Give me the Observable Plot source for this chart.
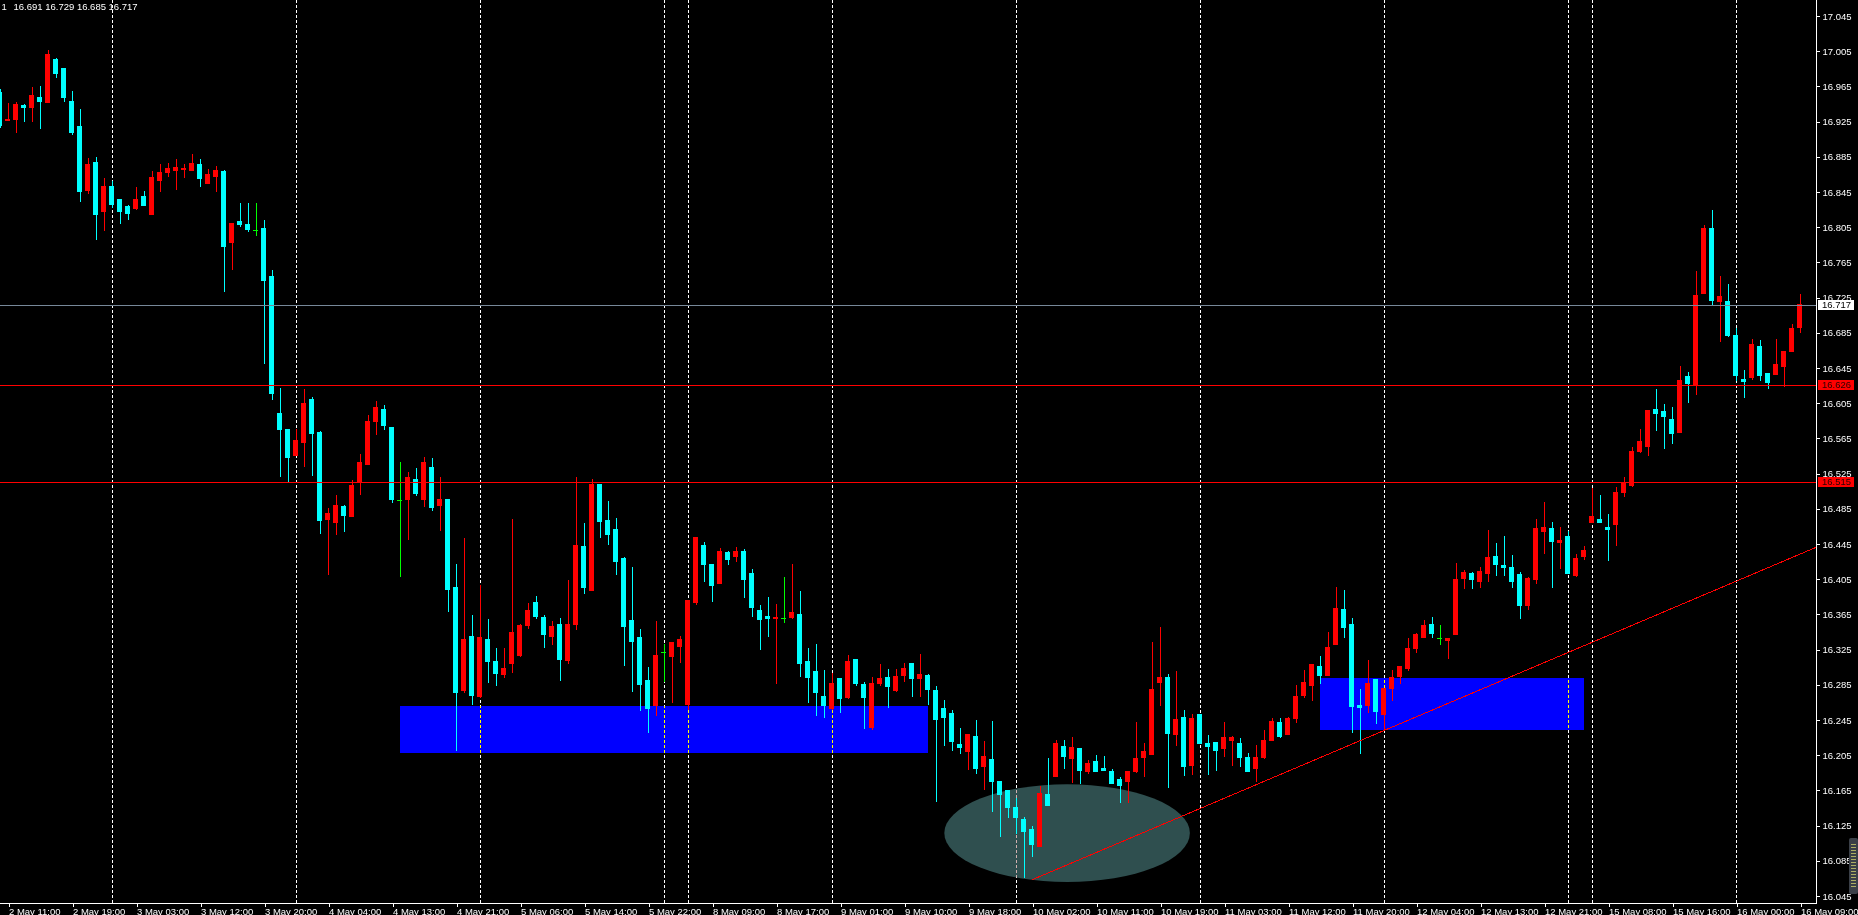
<!DOCTYPE html>
<html>
<head>
<meta charset="utf-8">
<script src="https://cdn.jsdelivr.net/npm/d3@7"></script>
<script src="https://cdn.jsdelivr.net/npm/@observablehq/plot@0.6"></script>
<style>
  html, body { margin: 0; padding: 0; background: #000; overflow: hidden; }
  #wrap { position: relative; width: 1858px; height: 915px; background: #000; }
  #wrap svg { display: block; }
  #scroll { position: absolute; left: 1849px; top: 838px; width: 9px; height: 56px; background: #3a3f47; border-radius: 2px; }
  #scroll div { position: absolute; left: 2px; top: 6px; width: 5px; height: 44px;
    background: repeating-linear-gradient(to bottom, #c8c86a 0 1px, transparent 1px 3px); opacity: .8; }
</style>
</head>
<body>
<div id="wrap"><div id="scroll"><div></div></div></div>
<script>
// ---- Candles (H1), first bar index = -1 ----
const firstBar = -1;
const open = [
16.958,16.926,16.927,16.943,16.941,16.952,16.947,16.996,16.985,16.948,
16.919,16.847,16.879,16.823,16.851,16.836,16.828,16.826,16.840,16.820,
16.858,16.867,16.869,16.871,16.869,16.876,16.855,16.863,16.868,16.788,
16.811,16.808,16.802,16.803,16.749,16.593,16.575,16.546,16.560,16.609,
16.572,16.473,16.469,16.488,16.476,16.515,16.535,16.584,16.598,16.577,
16.495,16.495,16.518,16.495,16.532,16.489,16.496,16.396,16.279,16.340,
16.272,16.336,16.311,16.297,16.309,16.318,16.352,16.378,16.361,16.340,
16.354,16.313,16.353,16.442,16.392,16.513,16.472,16.461,16.429,16.358,
16.339,16.290,16.261,16.322,16.317,16.328,16.263,16.378,16.443,16.422,
16.400,16.435,16.431,16.437,16.411,16.369,16.363,16.360,16.361,16.361,
16.365,16.311,16.300,16.272,16.258,16.292,16.270,16.314,16.285,16.237,
16.286,16.293,16.278,16.295,16.309,16.292,16.296,16.279,16.258,16.252,
16.217,16.209,16.226,16.192,16.200,16.175,16.165,16.145,16.132,16.121,
16.101,16.160,16.181,16.215,16.201,16.213,16.187,16.198,16.190,16.186,
16.177,16.175,16.187,16.202,16.206,16.288,16.293,16.229,16.248,16.193,
16.251,16.218,16.219,16.213,16.222,16.218,16.202,16.190,16.202,16.222,
16.242,16.228,16.247,16.273,16.284,16.306,16.295,16.331,16.370,16.354,
16.262,16.262,16.291,16.251,16.281,16.294,16.303,16.326,16.339,16.353,
16.338,16.335,16.342,16.406,16.412,16.402,16.412,16.431,16.420,16.418,
16.410,16.375,16.405,16.459,16.463,16.447,16.454,16.409,16.431,16.469,
16.473,16.464,16.467,16.504,16.512,16.550,16.556,16.598,16.595,16.587,
16.572,16.635,16.625,16.730,16.803,16.721,16.721,16.682,16.632,16.634,
16.669,16.639,16.638,16.647,16.664,16.691];
const high = [
16.962,16.946,16.947,16.945,16.964,16.965,17.006,16.997,16.986,16.960,
16.939,16.884,16.885,16.861,16.858,16.836,16.830,16.851,16.846,16.869,
16.877,16.878,16.882,16.877,16.888,16.882,16.871,16.874,16.870,16.810,
16.832,16.832,16.832,16.813,16.756,16.622,16.576,16.576,16.621,16.612,
16.573,16.486,16.501,16.489,16.518,16.547,16.592,16.607,16.603,16.577,
16.538,16.527,16.531,16.544,16.543,16.521,16.496,16.422,16.452,16.364,
16.398,16.360,16.327,16.327,16.473,16.354,16.378,16.386,16.364,16.357,
16.361,16.404,16.521,16.469,16.519,16.513,16.494,16.475,16.430,16.419,
16.348,16.305,16.358,16.331,16.333,16.340,16.381,16.453,16.447,16.422,
16.440,16.437,16.442,16.439,16.417,16.376,16.385,16.377,16.408,16.422,
16.392,16.327,16.331,16.302,16.298,16.293,16.319,16.314,16.288,16.294,
16.309,16.303,16.303,16.310,16.309,16.320,16.297,16.284,16.268,16.256,
16.236,16.229,16.245,16.221,16.244,16.176,16.165,16.156,16.135,16.125,
16.170,16.202,16.222,16.222,16.226,16.213,16.200,16.205,16.204,16.189,
16.180,16.187,16.243,16.219,16.334,16.351,16.297,16.301,16.256,16.252,
16.252,16.228,16.219,16.243,16.227,16.225,16.208,16.217,16.234,16.247,
16.247,16.248,16.285,16.302,16.308,16.318,16.345,16.396,16.393,16.361,
16.280,16.313,16.292,16.281,16.302,16.306,16.338,16.344,16.359,16.362,
16.353,16.338,16.423,16.416,16.413,16.419,16.461,16.446,16.454,16.432,
16.413,16.408,16.473,16.493,16.470,16.464,16.460,16.434,16.443,16.509,
16.501,16.479,16.510,16.521,16.555,16.576,16.597,16.621,16.604,16.601,
16.647,16.640,16.755,16.807,16.825,16.750,16.740,16.690,16.643,16.678,
16.677,16.639,16.678,16.664,16.695,16.729];
const low = [
16.918,16.926,16.912,16.924,16.924,16.917,16.947,16.975,16.947,16.910,
16.834,16.843,16.790,16.801,16.827,16.809,16.813,16.824,16.830,16.820,
16.845,16.862,16.847,16.861,16.869,16.851,16.855,16.845,16.731,16.756,
16.805,16.799,16.795,16.650,16.609,16.521,16.515,16.546,16.533,16.522,
16.456,16.410,16.455,16.459,16.476,16.501,16.535,16.569,16.575,16.492,
16.407,16.450,16.500,16.487,16.482,16.460,16.368,16.210,16.276,16.262,
16.270,16.287,16.284,16.293,16.298,16.317,16.348,16.360,16.327,16.330,
16.289,16.309,16.347,16.388,16.392,16.452,16.444,16.410,16.306,16.277,
16.255,16.230,16.250,16.288,16.264,16.310,16.256,16.376,16.402,16.379,
16.400,16.421,16.425,16.384,16.362,16.325,16.339,16.286,16.355,16.360,
16.294,16.264,16.250,16.247,16.256,16.253,16.269,16.284,16.235,16.234,
16.284,16.259,16.277,16.288,16.271,16.271,16.262,16.152,16.215,16.210,
16.206,16.188,16.184,16.165,16.140,16.112,16.134,16.116,16.065,16.089,
16.101,16.148,16.181,16.189,16.173,16.172,16.184,16.186,16.187,16.173,
16.151,16.151,16.185,16.180,16.206,16.261,16.168,16.215,16.181,16.182,
16.218,16.183,16.187,16.203,16.193,16.192,16.187,16.175,16.201,16.222,
16.225,16.228,16.242,16.270,16.267,16.286,16.295,16.331,16.338,16.230,
16.206,16.253,16.240,16.234,16.267,16.286,16.301,16.321,16.339,16.338,
16.330,16.314,16.342,16.394,16.394,16.395,16.402,16.409,16.409,16.395,
16.360,16.370,16.400,16.434,16.395,16.417,16.412,16.407,16.427,16.469,
16.469,16.426,16.443,16.498,16.510,16.548,16.545,16.573,16.553,16.559,
16.571,16.605,16.614,16.730,16.717,16.675,16.680,16.630,16.611,16.631,
16.630,16.621,16.637,16.623,16.663,16.685];
const close = [
16.921,16.927,16.945,16.941,16.955,16.948,17.001,16.980,16.952,16.913,
16.846,16.876,16.820,16.851,16.831,16.823,16.821,16.836,16.830,16.861,
16.867,16.872,16.873,16.872,16.877,16.860,16.865,16.870,16.783,16.809,
16.808,16.802,16.802,16.745,16.616,16.575,16.543,16.563,16.605,16.571,
16.472,16.480,16.489,16.477,16.512,16.538,16.584,16.600,16.580,16.496,
16.495,16.521,16.502,16.538,16.486,16.496,16.393,16.276,16.336,16.273,
16.339,16.311,16.298,16.304,16.344,16.352,16.369,16.363,16.342,16.351,
16.314,16.353,16.443,16.396,16.513,16.470,16.456,16.425,16.351,16.334,
16.285,16.258,16.318,16.322,16.333,16.337,16.381,16.452,16.422,16.398,
16.437,16.427,16.437,16.405,16.373,16.359,16.360,16.362,16.361,16.367,
16.309,16.293,16.276,16.261,16.287,16.269,16.312,16.287,16.271,16.286,
16.292,16.283,16.294,16.304,16.292,16.297,16.280,16.245,16.248,16.220,
16.214,16.229,16.190,16.204,16.175,16.160,16.145,16.134,16.118,16.103,
16.161,16.148,16.218,16.204,16.214,16.188,16.195,16.187,16.188,16.173,
16.170,16.187,16.201,16.209,16.280,16.293,16.230,16.245,16.192,16.247,
16.218,16.215,16.210,16.225,16.225,16.202,16.187,16.202,16.222,16.243,
16.226,16.247,16.272,16.288,16.308,16.296,16.327,16.372,16.350,16.260,
16.259,16.286,16.255,16.281,16.293,16.306,16.326,16.342,16.352,16.343,
16.338,16.338,16.405,16.413,16.405,16.414,16.430,16.422,16.418,16.402,
16.375,16.406,16.463,16.464,16.448,16.449,16.412,16.428,16.438,16.476,
16.469,16.462,16.504,16.514,16.550,16.561,16.597,16.593,16.590,16.571,
16.631,16.627,16.727,16.804,16.722,16.726,16.682,16.637,16.630,16.672,
16.637,16.629,16.649,16.664,16.690,16.717];

// ---- Time axis ----
const tickBars = [0,8,16,24,32,40,48,56,64,72,80,88,96,104,112,120,128,136,144,152,160,168,176,184,192,200,208,216,224];
const tickLabels = ["2 May 11:00","2 May 19:00","3 May 03:00","3 May 12:00","3 May 20:00","4 May 04:00","4 May 13:00",
  "4 May 21:00","5 May 06:00","5 May 14:00","5 May 22:00","8 May 09:00","8 May 17:00","9 May 01:00","9 May 10:00",
  "9 May 18:00","10 May 02:00","10 May 11:00","10 May 19:00","11 May 03:00","11 May 12:00","11 May 20:00",
  "12 May 04:00","12 May 13:00","12 May 21:00","15 May 08:00","15 May 16:00","16 May 00:00","16 May 09:00"];
const separatorBars = [13,36,59,82,85,103,126,149,172,195,198,216];

// ---- Price axis ----
const priceTicks = [17.045,17.005,16.965,16.925,16.885,16.845,16.805,16.765,16.725,16.685,16.645,16.605,16.565,
  16.525,16.485,16.445,16.405,16.365,16.325,16.285,16.245,16.205,16.165,16.125,16.085,16.045];

// ---- Objects ----
const bidPrice = 16.717;
const levelPrices = [16.626, 16.515];
const zoneStart = [49, 164];
const zoneEnd = [115, 197];
const zoneTop = [16.2613, 16.2927];
const zoneBottom = [16.2078, 16.2340];
const ellipseBars = [117.1, 147.8];
const ellipsePrices = [16.061, 16.172];
const trendBars = [128, 226.0625];
const trendPrices = [16.064, 16.442];
const header = ["1", "16.691 16.729 16.685 16.717"];

// ---- Build ----
const UP = "#ff0000", DOWN = "#00ffff", DOJI = "#00ff00";
const candles = open.map((o, k) => ({i: k + firstBar, o, h: high[k], l: low[k], c: close[k]}));
const col = d => d.c > d.o ? UP : d.c < d.o ? DOWN : DOJI;
const zones = zoneStart.map((s, k) => ({x1: s, x2: zoneEnd[k], y1: zoneBottom[k], y2: zoneTop[k]}));
const trend = trendBars.map((b, k) => ({bar: b, price: trendPrices[k]}));
const labelOf = new Map(tickBars.map((b, k) => [b, tickLabels[k]]));
const FONT = "'Liberation Sans', Arial, sans-serif";

function ellipseMark(index, scales) {
  const x = scales.x, y = scales.y;
  const xa = x(ellipseBars[0]), xb = x(ellipseBars[1]);
  const ya = y(ellipsePrices[0]), yb = y(ellipsePrices[1]);
  return d3.create("svg:ellipse")
    .attr("cx", (xa + xb) / 2).attr("cy", (ya + yb) / 2)
    .attr("rx", Math.abs(xb - xa) / 2).attr("ry", Math.abs(ya - yb) / 2)
    .attr("fill", "#2f4f4f").node();
}

function frameLines(index, scales, values, dims) {
  const g = d3.create("svg:g").attr("shape-rendering", "crispEdges").attr("stroke", "#fff");
  const xr = dims.width - dims.marginRight, yb = dims.height - dims.marginBottom;
  g.append("line").attr("x1", 0).attr("x2", xr + 1).attr("y1", yb + 0.5).attr("y2", yb + 0.5);
  g.append("line").attr("x1", xr + 0.5).attr("x2", xr + 0.5).attr("y1", 0).attr("y2", yb + 1);
  return g.node();
}

function priceBoxes(index, scales, values, dims) {
  const g = d3.create("svg:g").attr("font-family", FONT).attr("font-size", "9.5px").attr("text-anchor", "start");
  const xr = dims.width - dims.marginRight;
  const items = [{p: bidPrice, bg: "#ffffff", fg: "#000000"}].concat(levelPrices.map(p => ({p, bg: "#ff0000", fg: "#2a0000"})));
  for (const it of items) {
    const yy = Math.round(scales.y(it.p));
    g.append("rect").attr("x", xr + 2).attr("y", yy - 5).attr("width", 36).attr("height", 10).attr("fill", it.bg);
    g.append("text").attr("x", xr + 6).attr("y", yy).attr("dy", "0.35em").attr("text-anchor", "start")
      .attr("fill", it.fg).text(it.p.toFixed(3));
  }
  return g.node();
}

const chart = Plot.plot({
  width: 1858, height: 915,
  marginLeft: 0, marginRight: 42, marginTop: 0, marginBottom: 12,
  style: {backgroundColor: "#000", color: "#fff", fontFamily: FONT, fontSize: "9.5px", overflow: "visible"},
  x: {type: "linear", domain: [-0.9375, 226.0625]},
  y: {type: "linear", domain: [16.037045, 17.063182]},
  marks: [
    Plot.frame({fill: "#000"}),
    ellipseMark,
    Plot.rect(zones, {x1: "x1", x2: "x2", y1: "y1", y2: "y2", fill: "#0000ff", shapeRendering: "crispEdges"}),
    Plot.ruleX(separatorBars, {stroke: "#ffffff", strokeDasharray: "3,2", mixBlendMode: "difference", shapeRendering: "crispEdges"}),
    Plot.ruleX(candles, {x: "i", y1: "l", y2: "h", stroke: col, strokeWidth: 1, shapeRendering: "crispEdges"}),
    Plot.rect(candles.filter(d => d.c !== d.o), {
      x1: d => d.i - 0.3125, x2: d => d.i + 0.3125,
      y1: d => Math.min(d.o, d.c), y2: d => Math.max(d.o, d.c),
      fill: col, insetTop: -0.5, insetBottom: -0.5, shapeRendering: "crispEdges"}),
    Plot.ruleY(candles.filter(d => d.c === d.o), {y: "c", x1: d => d.i - 0.3125, x2: d => d.i + 0.3125, stroke: DOJI, shapeRendering: "crispEdges"}),
    Plot.ruleY([bidPrice], {stroke: "#778899", shapeRendering: "crispEdges"}),
    Plot.ruleY(levelPrices, {stroke: "#ff0000", shapeRendering: "crispEdges"}),
    Plot.line(trend, {x: "bar", y: "price", stroke: "#ff0000", strokeWidth: 1, shapeRendering: "crispEdges"}),
    Plot.axisX(tickBars, {anchor: "bottom", tickFormat: d => labelOf.get(d), tickSize: 4, tickPadding: 1,
      textAnchor: "start", dx: 1, stroke: "#fff", fill: "#fff", fontSize: 9.5, shapeRendering: "crispEdges"}),
    Plot.axisY(priceTicks, {anchor: "right", tickFormat: d => d.toFixed(3), tickSize: 3, tickPadding: 3,
      stroke: "#fff", fill: "#fff", fontSize: 9.5, shapeRendering: "crispEdges"}),
    frameLines,
    priceBoxes,
    Plot.text([header[0]], {frameAnchor: "top-left", dx: 1, dy: 3, lineAnchor: "top", textAnchor: "start", fill: "#fff", fontSize: 9.5}),
    Plot.text([header[1]], {frameAnchor: "top-left", dx: 13, dy: 3, lineAnchor: "top", textAnchor: "start", fill: "#fff", fontSize: 9.5})
  ]
});
document.getElementById("wrap").prepend(chart);
</script>
</body>
</html>
